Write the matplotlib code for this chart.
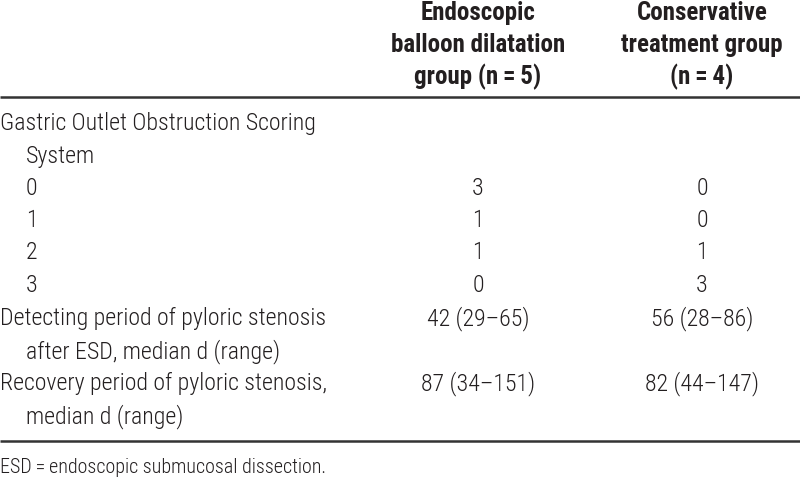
import matplotlib
matplotlib.use("Agg")
import matplotlib.pyplot as plt
from matplotlib import font_manager

fams = {f.name for f in font_manager.fontManager.ttflist}
cands = ['Roboto Condensed', 'Archivo Narrow', 'Liberation Sans Narrow', 'Liberation Sans']
FONT = [next(c for c in cands if c in fams), 'DejaVu Sans']

col_headers = ["Endoscopic\nballoon dilatation\ngroup (n\u2009=\u20095)",
               "Conservative\ntreatment group\n(n\u2009=\u20094)"]
row_labels = ["Gastric Outlet Obstruction Scoring\n   System",
              "   0", "   1", "   2", "   3",
              "Detecting period of pyloric stenosis\n   after ESD, median d (range)",
              "Recovery period of pyloric stenosis,\n   median d (range)"]
balloon = ["", "3", "1", "1", "0", "42 (29\u201365)", "87 (34\u2013151)"]
conservative = ["", "0", "0", "1", "3", "56 (28\u201386)", "82 (44\u2013147)"]
footnote = "ESD\u2009=\u2009endoscopic submucosal dissection."

fig = plt.figure(figsize=(8, 4.79), dpi=100)
ax = fig.add_axes([0, 0, 1, 1])
ax.set_xlim(0, 800)
ax.set_ylim(479, 0)
ax.axis('off')

C = '#231f20'
fs = 17.2
col_x = [478, 702]
head_base = [20, 52, 84]
for x, h in zip(col_x, col_headers):
    for y, ln in zip(head_base, h.split('\n')):
        ax.text(x, y, ln, ha='center', va='baseline', fontsize=18, fontweight='bold',
                family=FONT, color=C)

ax.plot([0, 800], [97, 97], color='#333333', lw=1.8, solid_capstyle='butt')

row_base = [130, 195, 227, 259, 292, 325, 390]
for y, lab, b, c in zip(row_base, row_labels, balloon, conservative):
    for i, ln in enumerate(lab.split('\n')):
        indent = 26 if ln.startswith('   ') else 0
        ax.text(indent, y + i * 33, ln.strip(), ha='left', va='baseline', fontsize=fs,
                fontweight='light', family=FONT, color=C)
    ax.text(col_x[0], y, b, ha='center', va='baseline', fontsize=fs,
            fontweight='light', family=FONT, color=C)
    ax.text(col_x[1], y, c, ha='center', va='baseline', fontsize=fs,
            fontweight='light', family=FONT, color=C)

ax.plot([0, 800], [441, 441], color='#333333', lw=1.8, solid_capstyle='butt')
ax.text(0, 473, footnote, ha='left', va='baseline', fontsize=14.4,
        fontweight='light', family=FONT, color=C)

fig.savefig('out.png', dpi=100)
